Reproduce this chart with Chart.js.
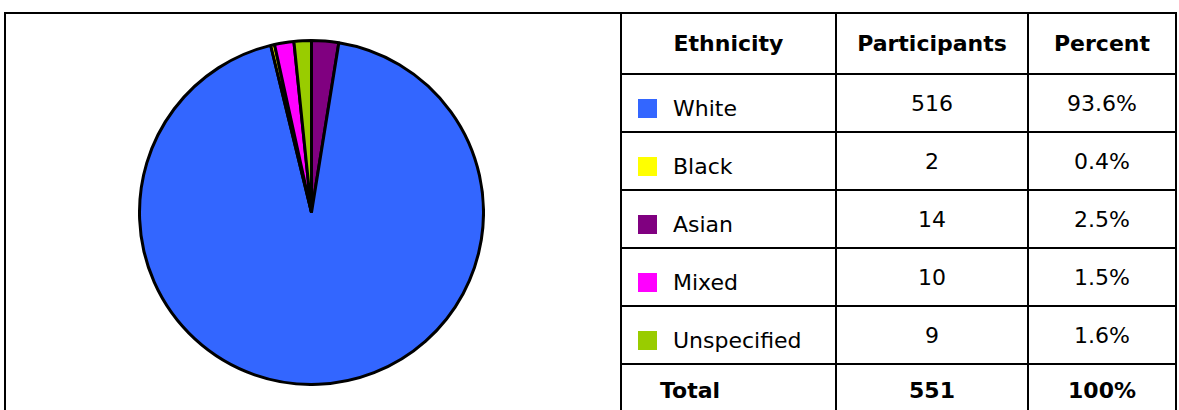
<!DOCTYPE html>
<html>
<head>
<meta charset="utf-8">
<script src="https://cdn.jsdelivr.net/npm/chart.js@4"></script>
<style>
  body { margin: 0; background: #fff; width: 1179px; height: 410px; overflow: hidden; position: relative; font-family: "DejaVu Sans", sans-serif; color: #000; }
  #panel { position: absolute; left: 4px; top: 12px; width: 616px; height: 420px; border-top: 2px solid #000; border-left: 2px solid #000; }
  #pieWrap { position: absolute; left: 138px; top: 39px; width: 347px; height: 347px; }
  #grid { position: absolute; left: 620px; top: 12px; padding: 2px; background: #000; display: grid; gap: 2px;
          grid-template-columns: 213px 190px 146px; grid-template-rows: 59px repeat(6, 56px); }
  .cell { background: #fff; display: flex; align-items: center; justify-content: center; font-size: 22px; }
  .head { font-weight: bold; }
  .name { justify-content: flex-start; padding-left: 16px; padding-top: 10px; box-sizing: border-box; }
  .swatch { width: 19px; height: 19px; margin-right: 16px; display: inline-block; }
  .total { font-weight: bold; padding-bottom: 6px; box-sizing: border-box; }
  .totalName { justify-content: flex-start; padding-left: 38px; }
</style>
</head>
<body>
<div id="panel"></div>
<div id="pieWrap"><canvas id="pie-chart" width="347" height="347"></canvas></div>
<div id="grid"></div>
<script>
const headers = ["Ethnicity", "Participants", "Percent"];
const ethnicities = ["White", "Black", "Asian", "Mixed", "Unspecified"];
const participants = [516, 2, 14, 10, 9];
const percentLabels = ["93.6%", "0.4%", "2.5%", "1.5%", "1.6%"];
const totalLabel = "Total";
const totalParticipants = 551;
const totalPercent = "100%";
// clockwise order of the slices, starting at 12 o'clock
const pieOrder = ["Asian", "White", "Black", "Mixed", "Unspecified"];

const colorFor = {
    White: "#3366ff",
    Black: "#ffff00",
    Asian: "#800080",
    Mixed: "#ff00ff",
    Unspecified: "#99cc00"
};

const grid = document.getElementById('grid');

function addCell(text, cls, color) {
    const div = document.createElement('div');
    div.className = 'cell ' + cls;
    if (color) {
        const sw = document.createElement('span');
        sw.className = 'swatch';
        sw.style.background = color;
        div.appendChild(sw);
    }
    div.appendChild(document.createTextNode(text));
    grid.appendChild(div);
}

headers.forEach(h => addCell(h, 'head'));
ethnicities.forEach((name, i) => {
    addCell(name, 'name', colorFor[name]);
    addCell(String(participants[i]), 'num');
    addCell(percentLabels[i], 'num');
});
addCell(totalLabel, 'total totalName');
addCell(String(totalParticipants), 'total');
addCell(totalPercent, 'total');

const pieValues = pieOrder.map(name => participants[ethnicities.indexOf(name)]);

new Chart(document.getElementById('pie-chart'), {
    type: 'pie',
    data: {
        labels: pieOrder,
        datasets: [{
            data: pieValues,
            backgroundColor: pieOrder.map(name => colorFor[name]),
            borderColor: "#000000",
            borderWidth: 3
        }]
    },
    options: {
        responsive: false,
        animation: false,
        layout: { padding: 0 },
        plugins: {
            legend: { display: false },
            tooltip: { enabled: false }
        }
    }
});
</script>
</body>
</html>
